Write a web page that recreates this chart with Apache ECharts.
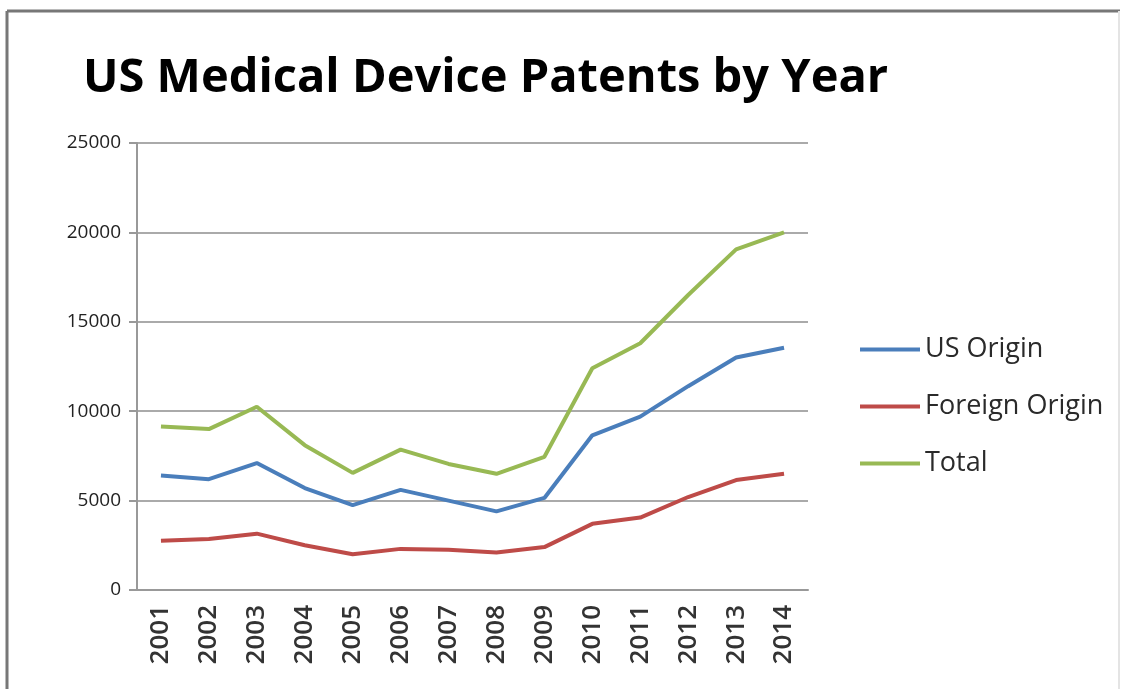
<!DOCTYPE html>
<html>
<head>
<meta charset="utf-8">
<script src="https://cdn.jsdelivr.net/npm/echarts@6/dist/echarts.min.js"></script>
<style>
html,body{margin:0;padding:0;background:#fff;}
#chart{width:1127px;height:689px;}
</style>
</head>
<body>
<div id="chart"></div>
<script>
const years = ['2001','2002','2003','2004','2005','2006','2007','2008','2009','2010','2011','2012','2013','2014'];
const usOrigin = [6400, 6200, 7100, 5700, 4750, 5600, 5000, 4400, 5150, 8650, 9700, 11400, 13000, 13550];
const foreignOrigin = [2750, 2850, 3150, 2500, 2000, 2300, 2250, 2100, 2400, 3700, 4050, 5200, 6150, 6500];
const total = [9150, 9000, 10250, 8100, 6550, 7850, 7050, 6500, 7450, 12400, 13800, 16500, 19050, 20000];
const seriesNames = ['US Origin', 'Foreign Origin', 'Total'];
const colors = ['#4A7EBB', '#BE4B48', '#98B954'];

const chart = echarts.init(document.getElementById('chart'), null, {renderer: 'canvas'});
const font = '"Open Sans", "DejaVu Sans", sans-serif';
chart.setOption({
  animation: false,
  backgroundColor: '#fff',
  title: {
    text: 'US Medical Device Patents by Year',
    left: 78, top: 50,
    textStyle: {fontFamily: font, fontWeight: 'bold', fontSize: 47, color: '#000'}
  },
  graphic: [
    {type: 'line', shape: {x1: 7, y1: 11, x2: 1120, y2: 11}, style: {stroke: '#777', lineWidth: 3}},
    {type: 'line', shape: {x1: 7, y1: 11, x2: 7, y2: 689}, style: {stroke: '#777', lineWidth: 3}},
    {type: 'line', shape: {x1: 1119, y1: 11, x2: 1119, y2: 689}, style: {stroke: '#e4e4e4', lineWidth: 2}}
  ],
  legend: {
    orient: 'vertical',
    left: 855, top: 331,
    itemWidth: 60, itemHeight: 4, itemGap: 30,
    icon: 'rect',
    textStyle: {fontFamily: font, fontSize: 27, color: '#2a2a2a', lineHeight: 27},
    data: seriesNames
  },
  grid: {left: 137, right: 319, top: 143, bottom: 99, containLabel: false},
  xAxis: {
    type: 'category',
    data: years,
    boundaryGap: true,
    axisLine: {lineStyle: {color: '#999', width: 2}},
    axisTick: {length: 7, lineStyle: {color: '#999', width: 2}},
    axisLabel: {rotate: 90, margin: 15, fontFamily: font, fontWeight: 600, fontSize: 26, color: '#333'}
  },
  yAxis: {
    type: 'value',
    min: 0, max: 25000, interval: 5000,
    axisLine: {show: true, lineStyle: {color: '#999', width: 2}},
    axisTick: {show: true, length: 8, lineStyle: {color: '#999', width: 2}},
    splitLine: {lineStyle: {color: '#aaa', width: 2}},
    axisLabel: {margin: 16, fontFamily: font, fontSize: 19, color: '#222', formatter: function (v) { return String(v); }}
  },
  series: [
    {name: seriesNames[0], type: 'line', data: usOrigin, showSymbol: false, symbol: 'none', lineStyle: {width: 4, color: colors[0]}, itemStyle: {color: colors[0]}},
    {name: seriesNames[1], type: 'line', data: foreignOrigin, showSymbol: false, symbol: 'none', lineStyle: {width: 4, color: colors[1]}, itemStyle: {color: colors[1]}},
    {name: seriesNames[2], type: 'line', data: total, showSymbol: false, symbol: 'none', lineStyle: {width: 4, color: colors[2]}, itemStyle: {color: colors[2]}}
  ]
});
</script>
</body>
</html>
